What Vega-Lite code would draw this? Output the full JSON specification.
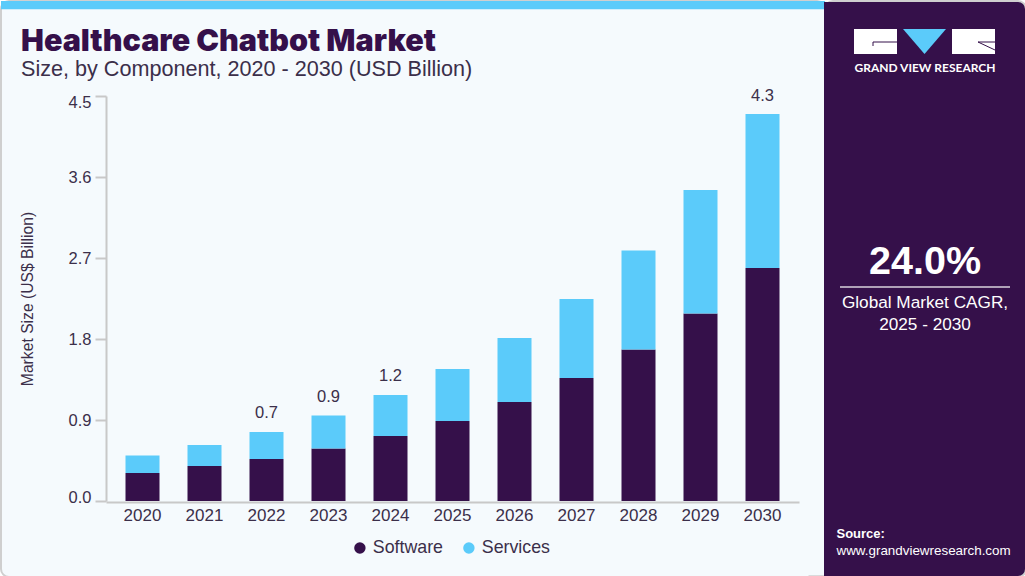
{"$schema":"https://vega.github.io/schema/vega-lite/v6.json","padding":0,"spacing":0,"bounds":"flush","background":"#ffffff","config":{"font":"Liberation Sans","view":{"stroke":null}},
"datasets":{"bars":[
{"year":"2020","component":"Software","value":0.311},{"year":"2020","component":"Services","value":0.194},
{"year":"2021","component":"Software","value":0.389},{"year":"2021","component":"Services","value":0.233},
{"year":"2022","component":"Software","value":0.467},{"year":"2022","component":"Services","value":0.3},
{"year":"2023","component":"Software","value":0.583},{"year":"2023","component":"Services","value":0.367},
{"year":"2024","component":"Software","value":0.722},{"year":"2024","component":"Services","value":0.456},
{"year":"2025","component":"Software","value":0.889},{"year":"2025","component":"Services","value":0.578},
{"year":"2026","component":"Software","value":1.1},{"year":"2026","component":"Services","value":0.711},
{"year":"2027","component":"Software","value":1.367},{"year":"2027","component":"Services","value":0.877},
{"year":"2028","component":"Software","value":1.683},{"year":"2028","component":"Services","value":1.1},
{"year":"2029","component":"Software","value":2.083},{"year":"2029","component":"Services","value":1.373},
{"year":"2030","component":"Software","value":2.589},{"year":"2030","component":"Services","value":1.711}],
"totals":[{"year":"2022","total":0.767,"label":"0.7"},{"year":"2023","total":0.95,"label":"0.9"},{"year":"2024","total":1.178,"label":"1.2"},{"year":"2030","total":4.3,"label":"4.3"}],
"one":[{"row":1}]},
"hconcat":[
{"width":824,"height":576,
"view":{"fill":"#F5FAFD","stroke":"#CFCFCF","strokeWidth":2,"cornerRadius":8},
"title":{"text":"Healthcare Chatbot Market","subtitle":"Size, by Component, 2020 - 2030 (USD Billion)","anchor":"start","frame":"group","dx":20,"dy":84,"font":"Inter","fontSize":30.5,"fontWeight":900,"color":"#35104A","subtitleFont":"Liberation Sans","subtitleFontSize":21.6,"subtitleColor":"#3B2F4A","subtitlePadding":2},
"resolve":{"scale":{"x":"independent","y":"independent"},"axis":{"x":"independent","y":"independent"}},
"layer":[
{"data":{"name":"one"},"mark":{"type":"rect","color":"#F5FAFD"},"encoding":{
"x":{"datum":0.98,"type":"quantitative","scale":{"domain":[0,1],"nice":false,"range":[0,824]},"axis":null},
"x2":{"datum":1.002},
"y":{"datum":0,"type":"quantitative","scale":{"domain":[0,1],"nice":false,"range":[0,576]},"axis":null},
"y2":{"datum":0.998}}},
{"data":{"name":"one"},"mark":{"type":"rect","color":"#CFCFCF"},"encoding":{
"x":{"datum":0.98,"type":"quantitative","scale":{"domain":[0,1],"nice":false,"range":[0,824]},"axis":null},"x2":{"datum":1.002},
"y":{"datum":0.997,"type":"quantitative","scale":{"domain":[0,1],"nice":false,"range":[0,576]},"axis":null},"y2":{"datum":1}}},
{"data":{"name":"one"},"mark":{"type":"rect","color":"#5BCBFA"},"encoding":{
"x":{"datum":0,"type":"quantitative","scale":{"domain":[0,1],"nice":false,"range":[0,824]},"axis":null},"x2":{"datum":1},
"y":{"datum":0,"type":"quantitative","scale":{"domain":[0,1],"nice":false,"range":[0,576]},"axis":null},"y2":{"datum":0.0145}}},
{"data":{"name":"bars"},"mark":{"type":"bar"},"encoding":{
"x":{"field":"year","type":"nominal","scale":{"type":"band","range":[105,798],"paddingInner":0.4516,"paddingOuter":0.3145},"axis":{"title":null,"labelAngle":0,"offset":-75,"domainColor":"#C8C8C8","domainWidth":2,"ticks":false,"labelPadding":5,"labelFontSize":17,"labelColor":"#3B2F4A","labelFont":"Liberation Sans"}},
"y":{"field":"value","type":"quantitative","stack":"zero","scale":{"domain":[0,4.5],"nice":false,"range":[500,95]},"axis":{"title":"Market Size (US$ Billion)","titleFontSize":15.7,"titleFontWeight":"normal","titleColor":"#3B2F4A","titleFont":"Liberation Sans","titleX":-71,"offset":-105,"values":[0,0.9,1.8,2.7,3.6,4.5],"format":".1f","grid":false,"domainColor":"#C8C8C8","domainWidth":2,"tickColor":"#C8C8C8","tickWidth":2,"tickSize":11,"labelPadding":4,"labelFontSize":16.5,"labelColor":"#3B2F4A","labelFont":"Liberation Sans","labelOffset":{"expr":"datum.value==4.5?6:datum.value==0?-4:0"}}},
"color":{"field":"component","type":"nominal","scale":{"domain":["Software","Services"],"range":["#35104A","#5BCBFA"]},"legend":{"title":null,"orient":"none","direction":"horizontal","legendX":350,"legendY":538,"symbolType":"circle","symbolSize":130,"labelFontSize":17.8,"labelColor":"#3B2F4A","labelFont":"Liberation Sans","columnPadding":17,"labelOffset":4}},
"order":{"field":"component","sort":"descending"}}},
{"data":{"name":"totals"},"mark":{"type":"text","dy":-18.5,"fontSize":16.5,"color":"#3B2F4A"},"encoding":{
"x":{"field":"year","type":"nominal","scale":{"type":"band","domain":["2020","2021","2022","2023","2024","2025","2026","2027","2028","2029","2030"],"range":[105,798],"paddingInner":0.4516,"paddingOuter":0.3145},"axis":null},"y":{"field":"total","type":"quantitative","scale":{"domain":[0,4.5],"nice":false,"range":[500,95]},"axis":null},"text":{"field":"label"}}}
]},
{"width":201,"height":576,
"data":{"name":"one"},
"view":{"fill":"#35104A","stroke":"#CFCFCF","strokeWidth":2,"cornerRadius":8},
"layer":[
{"mark":{"type":"rect","color":"#35104A"},"encoding":{"x":{"datum":-1,"type":"quantitative","scale":{"domain":[0,201],"nice":false,"range":[0,201]},"axis":null},"x2":{"datum":20},"y":{"datum":1,"type":"quantitative","scale":{"domain":[0,576],"nice":false,"range":[0,576]},"axis":null},"y2":{"datum":575}}},
{"mark":{"type":"rect","color":"#FFFFFF"},"encoding":{"x":{"datum":29,"type":"quantitative"},"x2":{"datum":72},"y":{"datum":28,"type":"quantitative"},"y2":{"datum":53}}},
{"mark":{"type":"rect","color":"#FFFFFF"},"encoding":{"x":{"datum":127,"type":"quantitative"},"x2":{"datum":170},"y":{"datum":28,"type":"quantitative"},"y2":{"datum":53}}},
{"mark":{"type":"rule","color":"#35104A","strokeWidth":1},"encoding":{"x":{"datum":48,"type":"quantitative"},"x2":{"datum":72},"y":{"datum":41,"type":"quantitative"},"y2":{"datum":41}}},
{"mark":{"type":"rule","color":"#35104A","strokeWidth":1},"encoding":{"x":{"datum":48,"type":"quantitative"},"x2":{"datum":48},"y":{"datum":41,"type":"quantitative"},"y2":{"datum":45}}},
{"mark":{"type":"rule","color":"#35104A","strokeWidth":1},"encoding":{"x":{"datum":153,"type":"quantitative"},"x2":{"datum":170},"y":{"datum":41,"type":"quantitative"},"y2":{"datum":41}}},
{"mark":{"type":"rule","color":"#35104A","strokeWidth":1},"encoding":{"x":{"datum":153,"type":"quantitative"},"x2":{"datum":170},"y":{"datum":41,"type":"quantitative"},"y2":{"datum":49}}},
{"mark":{"type":"point","filled":true,"opacity":1,"color":"#5BCBFA","size":1849,"shape":"M-1,-0.58L1,-0.58L0,0.58Z"},"encoding":{"x":{"datum":99.5,"type":"quantitative"},"y":{"datum":40.5,"type":"quantitative"}}},
{"mark":{"type":"text","text":"GRAND VIEW RESEARCH","font":"Lato","fontWeight":"bold","fontSize":12,"color":"#FFFFFF","align":"center","baseline":"middle"},"encoding":{"x":{"datum":100,"type":"quantitative"},"y":{"datum":67,"type":"quantitative"}}},
{"mark":{"type":"text","text":"24.0%","font":"Liberation Sans","fontWeight":"bold","fontSize":39.5,"color":"#FFFFFF","align":"center","baseline":"middle"},"encoding":{"x":{"datum":100,"type":"quantitative"},"y":{"datum":261,"type":"quantitative"}}},
{"mark":{"type":"rule","color":"#D8D2DC","strokeWidth":1.5},"encoding":{"x":{"datum":15,"type":"quantitative"},"x2":{"datum":185},"y":{"datum":286,"type":"quantitative"},"y2":{"datum":286}}},
{"mark":{"type":"text","text":"Global Market CAGR,","fontSize":17.2,"color":"#FFFFFF","align":"center","baseline":"middle"},"encoding":{"x":{"datum":100,"type":"quantitative"},"y":{"datum":302,"type":"quantitative"}}},
{"mark":{"type":"text","text":"2025 - 2030","fontSize":17.2,"color":"#FFFFFF","align":"center","baseline":"middle"},"encoding":{"x":{"datum":100,"type":"quantitative"},"y":{"datum":323.5,"type":"quantitative"}}},
{"mark":{"type":"text","text":"Source:","fontWeight":"bold","fontSize":13,"color":"#FFFFFF","align":"left","baseline":"middle"},"encoding":{"x":{"datum":11.5,"type":"quantitative"},"y":{"datum":533,"type":"quantitative"}}},
{"mark":{"type":"text","text":"www.grandviewresearch.com","fontSize":13.4,"color":"#FFFFFF","align":"left","baseline":"middle"},"encoding":{"x":{"datum":11.5,"type":"quantitative"},"y":{"datum":550,"type":"quantitative"}}}
]}
]}
